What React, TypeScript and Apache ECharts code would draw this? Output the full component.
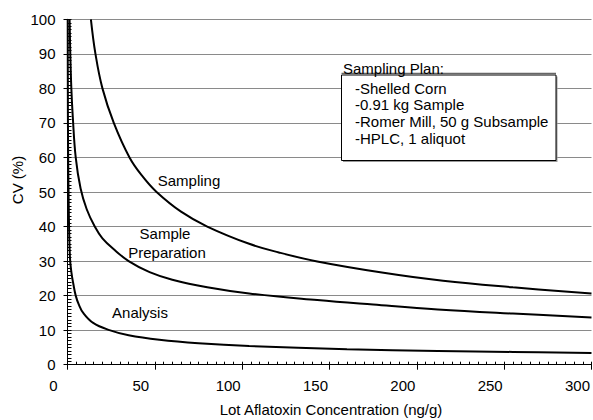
import React, { useEffect, useRef } from "react";
import * as echarts from "echarts";

const FONT = '"Liberation Sans", Arial, sans-serif';

const xTicks = [0, 50, 100, 150, 200, 250, 300];
const yTicks = [0, 10, 20, 30, 40, 50, 60, 70, 80, 90, 100];

const samplingData: [number, number][] = [
  [13.4, 100], [16, 90], [20, 80], [26.5, 70], [35.5, 60], [43, 54.5], [51, 50],
  [65, 44.3], [80, 40], [104, 35], [121, 32.5], [143, 29.9], [180, 26.7],
  [215, 24.3], [255, 22.4], [300, 20.6],
];
const samplePrepData: [number, number][] = [
  [1.2, 100], [1.6, 90], [2.2, 80], [3, 72], [4.7, 60], [7.5, 51], [11, 45],
  [15.6, 40], [20, 36.6], [27, 33.2], [35, 30], [47, 26.8], [60, 24.6],
  [80, 22.4], [104, 20.6], [143, 18.7], [175, 17.4], [212, 16], [255, 14.8],
  [300, 13.7],
];
const analysisData: [number, number][] = [
  [0.12, 100], [0.2, 78], [0.3, 66], [0.7, 46], [1.4, 31], [2.3, 26.5],
  [3.3, 23.5], [4.7, 20], [6.5, 17.4], [9, 15], [14.7, 12.1], [24, 10],
  [35, 8.5], [52.6, 7.2], [75, 6.2], [104, 5.4], [160, 4.5], [212, 4.0],
  [255, 3.7], [300, 3.4],
];

const curveLabels = [
  { text: "Sampling", x: 189, y: 180 },
  { text: "Sample", x: 165, y: 233 },
  { text: "Preparation", x: 167, y: 252 },
  { text: "Analysis", x: 140, y: 312 },
];

const legendTitle = "Sampling Plan:";
const legendItems = [
  "-Shelled Corn",
  "-0.91 kg Sample",
  "-Romer Mill, 50 g Subsample",
  "-HPLC, 1 aliquot",
];

const xName = "Lot Aflatoxin Concentration (ng/g)";
const yName = "CV (%)";

export default function App() {
  const ref = useRef<HTMLDivElement>(null);
  useEffect(() => {
    if (!ref.current) return;
    const chart = echarts.init(ref.current, null, { renderer: "svg" });
    const xMin = xTicks[0];
    const xMax = xTicks[xTicks.length - 1];
    const yMin = yTicks[0];
    const yMax = yTicks[yTicks.length - 1];
    const line = (data: [number, number][]) => ({
      type: "line",
      data,
      smooth: 0.4,
      showSymbol: false,
      symbol: "none",
      lineStyle: { color: "#000", width: 2 },
      xAxisIndex: 0,
      yAxisIndex: 0,
    });
    const txt = (text: string, x: number, y: number, align = "center") => ({
      type: "text",
      x,
      y,
      z: 100,
      style: {
        text,
        fill: "#000",
        font: `15px ${FONT}`,
        textAlign: align,
        align,
        textVerticalAlign: "middle",
        verticalAlign: "middle",
      },
    });
    const boxL = 341.5, boxT = 75, boxR = 556, boxB = 160.5;
    chart.setOption({
      animation: false,
      backgroundColor: "#fff",
      grid: { left: 67.5, right: -2, top: 19.3, bottom: 55.3, containLabel: false },
      xAxis: [
        {
          type: "value",
          min: xMin,
          max: xMax,
          interval: 50,
          axisLine: { show: true, lineStyle: { color: "#000", width: 1 } },
          axisTick: { show: true, inside: true, length: 3, lineStyle: { color: "#000" } },
          minorTick: { show: true, splitNumber: 10, length: 3, lineStyle: { color: "#000" } },
          splitLine: { show: false },
          axisLabel: {
            show: true,
            color: "#000",
            fontFamily: FONT,
            fontSize: 15,
            margin: 13,
            padding: [0, 28, 0, 0],
          },
        },
        {
          type: "value",
          position: "bottom",
          min: xMin,
          max: xMax,
          interval: 50,
          axisLine: { show: false },
          axisTick: { show: true, inside: false, length: 5, lineStyle: { color: "#000" } },
          splitLine: { show: false },
          axisLabel: { show: false },
        },
      ],
      yAxis: [
        {
          type: "value",
          min: yMin,
          max: yMax,
          interval: 10,
          axisLine: { show: true, lineStyle: { color: "#000", width: 1 } },
          axisTick: { show: true, inside: true, length: 4, lineStyle: { color: "#000" } },
          minorTick: { show: true, splitNumber: 10, length: 4, lineStyle: { color: "#000" } },
          splitLine: { show: true, lineStyle: { color: "#8a8a8a", width: 1 } },
          axisLabel: {
            color: "#000",
            fontFamily: FONT,
            fontSize: 15,
            margin: 12,
          },
        },
        {
          type: "value",
          position: "left",
          min: yMin,
          max: yMax,
          interval: 10,
          axisLine: { show: false },
          axisTick: { show: true, inside: false, length: 4, lineStyle: { color: "#000" } },
          splitLine: { show: false },
          axisLabel: { show: false },
        },
      ],
      series: [line(samplingData), line(samplePrepData), line(analysisData)],
      graphic: [
        ...curveLabels.map((l) => txt(l.text, l.x, l.y)),
        txt(xName, 331, 409),
        {
          type: "text",
          x: 17.5,
          y: 180,
          rotation: Math.PI / 2,
          style: {
            text: yName,
            fill: "#000",
            font: `15px ${FONT}`,
            textAlign: "center",
            align: "center",
            textVerticalAlign: "middle",
            verticalAlign: "middle",
          },
        },
        {
          type: "rect",
          z: 90,
          shape: { x: boxL + 1.5, y: boxT + 1.5, width: boxR - boxL, height: boxB - boxT },
          style: { fill: "#999", stroke: "none" },
        },
        {
          type: "rect",
          z: 91,
          shape: { x: boxL, y: boxT, width: boxR - boxL, height: boxB - boxT },
          style: { fill: "#fff", stroke: "#000", lineWidth: 1 },
        },
        {
          type: "line",
          z: 92,
          shape: { x1: boxL, y1: boxT - 1.5, x2: boxR, y2: boxT - 1.5 },
          style: { stroke: "#666", lineWidth: 1.5 },
        },
        txt(legendTitle, 343, 68.5, "left"),
        ...legendItems.map((t, i) => txt(t, 355, 88 + i * 16.8, "left")),
      ],
    });
    return () => chart.dispose();
  }, []);
  return (
    <div
      ref={ref}
      style={{ position: "fixed", left: 0, top: 0, width: 593, height: 420 }}
    />
  );
}
